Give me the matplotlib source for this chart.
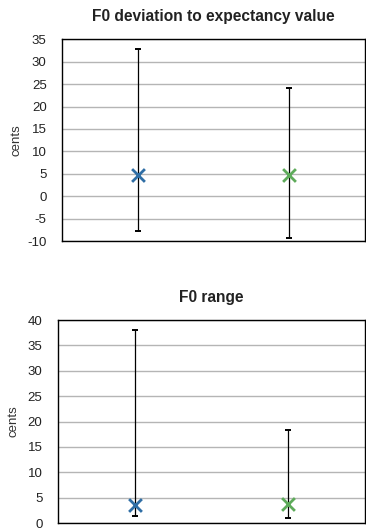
import matplotlib
matplotlib.use("Agg")
import matplotlib.pyplot as plt

# Data
groups = ["A", "B"]
colors = ["#2f6ea5", "#5eab5a"]

dev_center = [4.8, 4.7]
dev_upper = [32.8, 24.2]
dev_lower = [-7.7, -9.2]

rng_center = [3.6, 3.7]
rng_upper = [38.0, 18.4]
rng_lower = [1.4, 0.9]

plt.rcParams['font.family'] = ['Liberation Sans', 'DejaVu Sans']
plt.rcParams['axes.unicode_minus'] = False

fig = plt.figure(figsize=(3.66, 5.30), dpi=100)

def draw(ax, center, upper, lower, ylim, yticks, title, ylabelpad):
    xs = [0.5, 1.5]
    for x, c, u, l, col in zip(xs, center, upper, lower, colors):
        ax.errorbar([x], [c], yerr=[[c - l], [u - c]], fmt='none', ecolor='black',
                    elinewidth=0.9, capsize=2.3, capthick=1.4, zorder=3)
        ax.scatter([x], [c], marker='x', s=85, color=col, linewidths=2.0, zorder=4)
    ax.set_xlim(0, 2)
    ax.set_ylim(*ylim)
    ax.set_yticks(yticks)
    ax.set_xticks([])
    ax.grid(axis='y', color='#b5b5b5', linewidth=1.0, zorder=0)
    ax.set_axisbelow(True)
    ax.tick_params(axis='y', length=0, labelsize=9.5, pad=11, colors='#222222')
    for s in ax.spines.values():
        s.set_color('black')
        s.set_linewidth(1.0)
    ax.set_ylabel('cents', fontsize=9.5, color='#333333', labelpad=ylabelpad)
    ax.set_title(title, fontsize=11.2, fontweight='bold', color='#222222', pad=13)

ax1 = fig.add_axes([0.169, 0.545, 0.829, 0.381])
draw(ax1, dev_center, dev_upper, dev_lower, (-10, 35), list(range(-10, 36, 5)),
     'F0 deviation to expectancy value', 3.1)

ax2 = fig.add_axes([0.158, 0.0132, 0.840, 0.383])
draw(ax2, rng_center, rng_upper, rng_lower, (0, 40), list(range(0, 41, 5)),
     'F0 range', 6)

fig.savefig('out.png', dpi=100)
